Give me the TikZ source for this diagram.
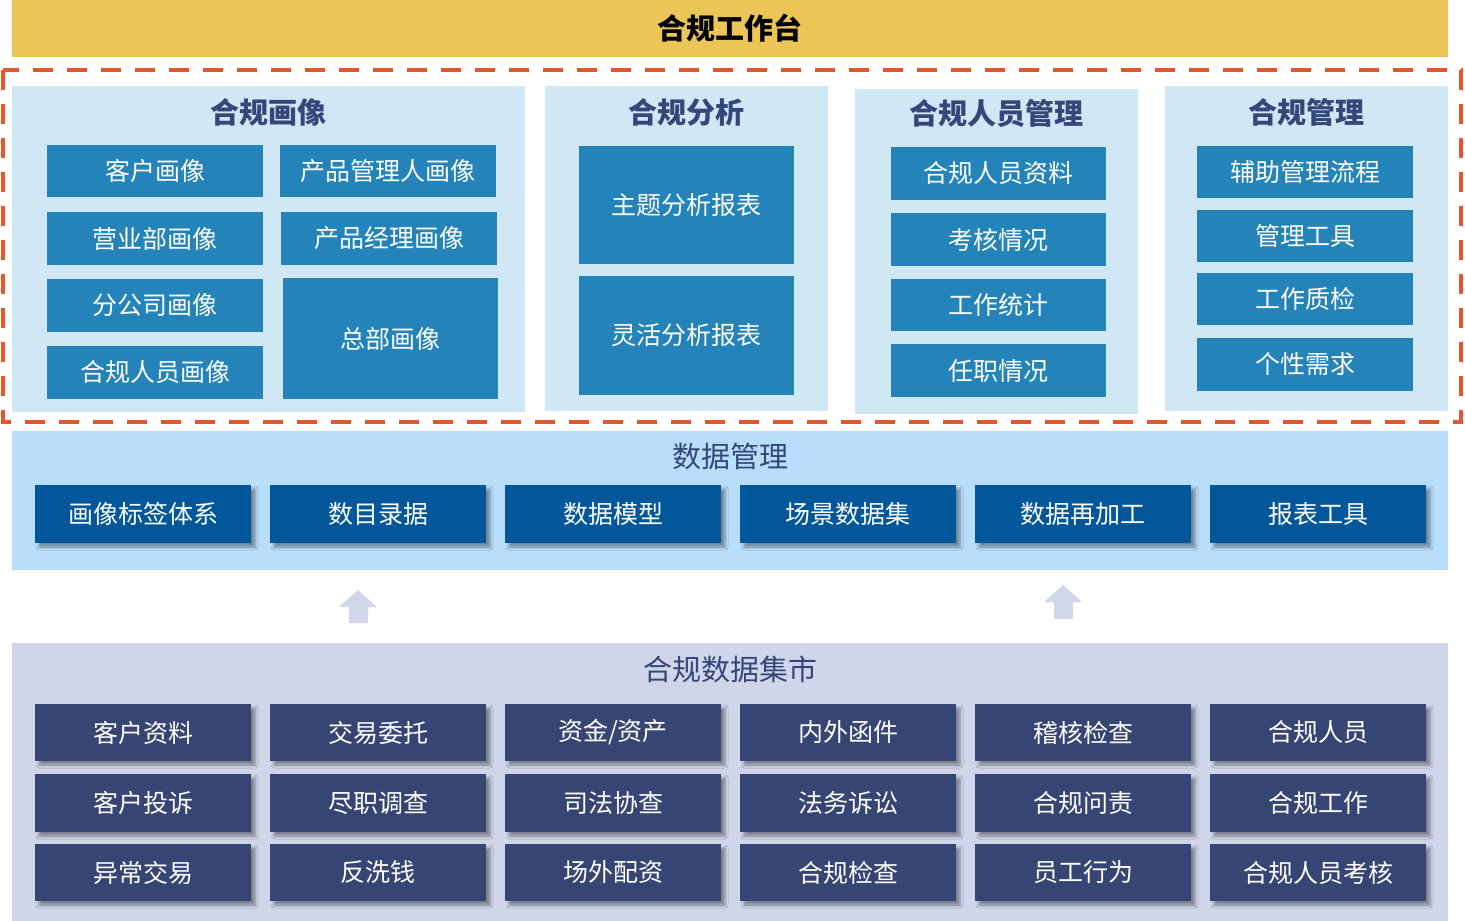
\documentclass[tikz,border=0pt]{standalone}
\usepackage{fontspec}
\setmainfont{Noto Sans CJK SC}
\usetikzlibrary{shadows.blur}
\definecolor{bannerY}{HTML}{ECC557}
\definecolor{dashO}{HTML}{E4572A}
\definecolor{paneL}{HTML}{D0E7F5}
\definecolor{cellB}{HTML}{2484BA}
\definecolor{titleB}{HTML}{34477A}
\definecolor{dataP}{HTML}{B8DEFB}
\definecolor{dataC}{HTML}{02579B}
\definecolor{martP}{HTML}{D0D5EA}
\definecolor{martC}{HTML}{364574}
\definecolor{upA}{HTML}{D1D6EA}
\tikzset{
  panel/.style={fill=paneL, inner sep=0pt},
  ptitle/.style={text=titleB, font=\fontsize{29}{33}\selectfont\bfseries},
  cell/.style={fill=cellB, text=white, inner sep=0pt, minimum width=216pt,
    minimum height=53pt, font=\fontsize{25}{29}\selectfont},
  dcell/.style={cell, fill=dataC, minimum height=58pt,
    blur shadow={shadow xshift=4pt, shadow yshift=-4pt, shadow blur radius=3pt,
      shadow opacity=40}},
  mcell/.style={dcell, fill=martC, minimum height=57pt},
}
\begin{document}
\begin{tikzpicture}[x=1pt,y=-1pt]
  \useasboundingbox (0,0) rectangle (1465,921);
  % top banner
  \node[fill=bannerY, minimum width=1436pt, minimum height=57pt, inner sep=0pt,
    font=\fontsize{29}{33}\selectfont\bfseries] (T) at (730,28.5) {合规工作台};
  \draw[dashO, line width=4.5pt, dash pattern=on 20pt off 14pt] (3,70) rectangle (1461,422);
  % 合规画像
  \begin{scope}
    \node[panel, minimum width=513pt, minimum height=326pt] (P1) at (268.5,249) {};
    \node[ptitle] (P1t) at (268.5,112) {合规画像};
    \node[cell, minimum height=52pt] (A1) at (155,171) {客户画像};
    \node[cell, minimum height=52pt] (A2) at (388,171) {产品管理人画像};
    \node[cell] (A3) at (155,238.5) {营业部画像};
    \node[cell] (A4) at (389,238.5) {产品经理画像};
    \node[cell] (A5) at (155,305.5) {分公司画像};
    \node[cell] (A6) at (155,372.5) {合规人员画像};
    \node[cell, minimum width=215pt, minimum height=121pt] (A7) at (390.5,338.5) {总部画像};
  \end{scope}
  % 合规分析
  \begin{scope}
    \node[panel, minimum width=283pt, minimum height=325pt] (P2) at (686.5,248.5) {};
    \node[ptitle] (P2t) at (686.5,112) {合规分析};
    \node[cell, minimum width=215pt, minimum height=118pt] (B1) at (686.5,205) {主题分析报表};
    \node[cell, minimum width=215pt, minimum height=119pt] (B2) at (686.5,335.5) {灵活分析报表};
  \end{scope}
  % 合规人员管理
  \begin{scope}
    \node[panel, minimum width=283pt, minimum height=325pt] (P3) at (996.5,251.5) {};
    \node[ptitle] (P3t) at (996.5,114) {合规人员管理};
    \node[cell, minimum width=215pt] (C1) at (998.5,173.5) {合规人员资料};
    \node[cell, minimum width=215pt] (C2) at (998.5,239.5) {考核情况};
    \node[cell, minimum width=215pt, minimum height=52pt] (C3) at (998.5,305) {工作统计};
    \node[cell, minimum width=215pt] (C4) at (998.5,370.5) {任职情况};
  \end{scope}
  % 合规管理
  \begin{scope}
    \node[panel, minimum width=283pt, minimum height=325pt] (P4) at (1306.5,248.5) {};
    \node[ptitle] (P4t) at (1306.5,112) {合规管理};
    \node[cell, minimum height=52pt] (D1) at (1305,172) {辅助管理流程};
    \node[cell, minimum height=52pt] (D2) at (1305,236) {管理工具};
    \node[cell, minimum height=52pt] (D3) at (1305,299) {工作质检};
    \node[cell] (D4) at (1305,364.5) {个性需求};
  \end{scope}
  % 数据管理
  \begin{scope}
    \node[fill=dataP, minimum width=1436pt, minimum height=139pt, inner sep=0pt] (P5) at (730,500.5) {};
    \node[text=titleB, font=\fontsize{29}{33}\selectfont] (P5t) at (730,456) {数据管理};
    \node[dcell] (E1) at (143,514) {画像标签体系};
    \node[dcell] (E2) at (378,514) {数目录据};
    \node[dcell] (E3) at (613,514) {数据模型};
    \node[dcell] (E4) at (848,514) {场景数据集};
    \node[dcell] (E5) at (1083,514) {数据再加工};
    \node[dcell] (E6) at (1318,514) {报表工具};
  \end{scope}
  % up arrows
  \fill[upA] (358,590) -- (377,607) -- (368,607) -- (368,623) -- (349,623) -- (349,607) -- (339,607) -- cycle;
  \fill[upA] (1063,585) -- (1082,602) -- (1073,602) -- (1073,619) -- (1054,619) -- (1054,602) -- (1044,602) -- cycle;
  % 合规数据集市
  \begin{scope}
    \node[fill=martP, minimum width=1436pt, minimum height=278pt, inner sep=0pt] (P6) at (730,782) {};
    \node[text=titleB, font=\fontsize{29}{33}\selectfont] (P6t) at (730,669) {合规数据集市};
    \node[mcell] (F1) at (143,732.5) {客户资料};
    \node[mcell] (F2) at (378,732.5) {交易委托};
    \node[mcell] (F3) at (613,732.5) {资金/资产};
    \node[mcell] (F4) at (848,732.5) {内外函件};
    \node[mcell] (F5) at (1083,732.5) {稽核检查};
    \node[mcell] (F6) at (1318,732.5) {合规人员};
    \node[mcell, minimum height=58pt] (G1) at (143,803) {客户投诉};
    \node[mcell, minimum height=58pt] (G2) at (378,803) {尽职调查};
    \node[mcell, minimum height=58pt] (G3) at (613,803) {司法协查};
    \node[mcell, minimum height=58pt] (G4) at (848,803) {法务诉讼};
    \node[mcell, minimum height=58pt] (G5) at (1083,803) {合规问责};
    \node[mcell, minimum height=58pt] (G6) at (1318,803) {合规工作};
    \node[mcell] (H1) at (143,872.5) {异常交易};
    \node[mcell] (H2) at (378,872.5) {反洗钱};
    \node[mcell] (H3) at (613,872.5) {场外配资};
    \node[mcell] (H4) at (848,872.5) {合规检查};
    \node[mcell] (H5) at (1083,872.5) {员工行为};
    \node[mcell] (H6) at (1318,872.5) {合规人员考核};
  \end{scope}
\end{tikzpicture}
\end{document}
